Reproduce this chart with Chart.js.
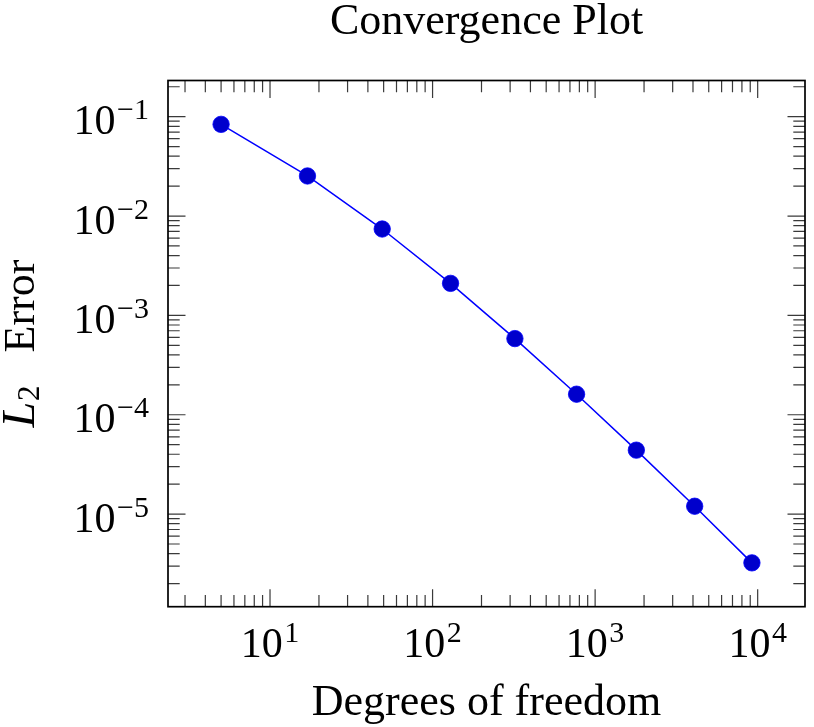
<!DOCTYPE html>
<html><head><meta charset="utf-8">
<script src="https://cdn.jsdelivr.net/npm/chart.js@4"></script>
<style>html,body{margin:0;padding:0;background:#fff}#wrap{width:814px;height:727px;position:relative}</style>
</head><body><div id="wrap"><canvas id="c"></canvas></div>
<script>
const titleText = 'Convergence Plot';
const xAxisLabel = 'Degrees of freedom';
const yAxisLabelVar = 'L';
const yAxisLabelSub = '2';
const yAxisLabelRest = 'Error';
const dofs = [5, 17, 49, 129, 321, 769, 1793, 4097, 9217];
const l2Errors = [0.0837, 0.0253, 0.0074, 0.0021, 0.000584, 0.000161, 0.000044, 0.0000120, 0.00000323];
const xTickExponents = [1, 2, 3, 4];
const yTickExponents = [-1, -2, -3, -4, -5];

const FONT = '"Liberation Serif", "Times New Roman", serif';
const LABEL = 44, BIG = 42, SMALL = 30;

function logLimits(arr) {
  const lo = Math.log10(Math.min(...arr)), hi = Math.log10(Math.max(...arr));
  const pad = 0.1 * (hi - lo);
  return [Math.pow(10, lo - pad), Math.pow(10, hi + pad)];
}
const [xMin, xMax] = logLimits(dofs);
const [yMin, yMax] = logLimits(l2Errors);

function drawPow(ctx, exp, x, y, align) {
  const base = '10';
  const e = exp < 0 ? '\u2212' + (-exp) : String(exp);
  ctx.font = BIG + 'px ' + FONT;
  const w1 = ctx.measureText(base).width;
  ctx.font = SMALL + 'px ' + FONT;
  const w2 = ctx.measureText(e).width;
  const gap = 1.5;
  const total = w1 + gap + w2;
  const x0 = align === 'center' ? x - total / 2 : x - total;
  ctx.textAlign = 'left';
  ctx.textBaseline = 'alphabetic';
  ctx.fillStyle = '#000';
  ctx.font = BIG + 'px ' + FONT;
  ctx.fillText(base, x0, y);
  ctx.font = SMALL + 'px ' + FONT;
  ctx.fillText(e, x0 + w1 + gap, y - 15);
}

const axisPlugin = {
  id: 'pgfAxis',
  beforeDatasetsDraw(chart) {
    const ctx = chart.ctx, a = chart.chartArea;
    const xs = chart.scales.x, ys = chart.scales.y;
    ctx.save();
    ctx.strokeStyle = '#3a3a3a';
    ctx.lineWidth = 1.2;
    const MAJ = 17.5, MIN = 11.7;
    for (let k = Math.floor(Math.log10(xs.min)); k <= Math.ceil(Math.log10(xs.max)); k++) {
      for (let m = 1; m <= 9; m++) {
        const v = m * Math.pow(10, k);
        if (v < xs.min || v > xs.max) continue;
        const px = xs.getPixelForValue(v);
        const len = m === 1 ? MAJ : MIN;
        ctx.beginPath();
        ctx.moveTo(px, a.bottom); ctx.lineTo(px, a.bottom - len);
        ctx.moveTo(px, a.top); ctx.lineTo(px, a.top + len);
        ctx.stroke();
      }
    }
    for (let k = Math.floor(Math.log10(ys.min)); k <= Math.ceil(Math.log10(ys.max)); k++) {
      for (let m = 1; m <= 9; m++) {
        const v = m * Math.pow(10, k);
        if (v < ys.min || v > ys.max) continue;
        const py = ys.getPixelForValue(v);
        const len = m === 1 ? MAJ : MIN;
        ctx.beginPath();
        ctx.moveTo(a.left, py); ctx.lineTo(a.left + len, py);
        ctx.moveTo(a.right, py); ctx.lineTo(a.right - len, py);
        ctx.stroke();
      }
    }
    ctx.restore();
  },
  afterDraw(chart) {
    const ctx = chart.ctx, a = chart.chartArea;
    const xs = chart.scales.x, ys = chart.scales.y;
    ctx.save();
    ctx.strokeStyle = '#000';
    ctx.lineWidth = 1.7;
    ctx.strokeRect(a.left, a.top, a.right - a.left, a.bottom - a.top);

    xTickExponents.forEach(e => drawPow(ctx, e, xs.getPixelForValue(Math.pow(10, e)), a.bottom + 50.5, 'center'));
    yTickExponents.forEach(e => drawPow(ctx, e, a.left - 19, ys.getPixelForValue(Math.pow(10, e)) + 17.7, 'right'));

    const cx = (a.left + a.right) / 2;
    ctx.fillStyle = '#000';
    ctx.textAlign = 'center';
    ctx.textBaseline = 'alphabetic';
    ctx.font = LABEL + 'px ' + FONT;
    ctx.fillText(titleText, cx, 34);
    ctx.fillText(xAxisLabel, cx, 715);

    // y axis label, rotated
    const cy = (a.top + a.bottom) / 2;
    ctx.translate(34, cy);
    ctx.rotate(-Math.PI / 2);
    const fItal = 'italic ' + (LABEL + 2) + 'px ' + FONT;
    const fBig = LABEL + 'px ' + FONT;
    const fSmall = (SMALL + 1) + 'px ' + FONT;
    const half = 84;
    ctx.textAlign = 'left';
    ctx.font = fItal; const wL = ctx.measureText(yAxisLabelVar).width;
    ctx.fillText(yAxisLabelVar, -half, 0);
    ctx.font = fSmall;
    ctx.fillText(yAxisLabelSub, -half + wL + 1, 5);
    ctx.font = fBig;
    ctx.textAlign = 'right';
    ctx.fillText(yAxisLabelRest, half, 0);
    ctx.restore();
  }
};

const points = dofs.map((d, i) => ({ x: d, y: l2Errors[i] }));

new Chart(document.getElementById('c'), {
  type: 'line',
  data: {
    datasets: [{
      label: 'L2 Error',
      data: points,
      borderColor: '#0000ff',
      borderWidth: 1.5,
      backgroundColor: '#0000cc',
      pointBackgroundColor: '#0000cc',
      pointBorderColor: '#0000ff',
      pointBorderWidth: 0.8,
      pointRadius: 8.2,
      tension: 0,
      fill: false
    }]
  },
  options: {
    animation: false,
    responsive: true,
    maintainAspectRatio: false,
    layout: { padding: { left: 168, right: 6, top: 80.5, bottom: 120.3 } },
    plugins: { legend: { display: false }, tooltip: { enabled: false }, title: { display: false } },
    scales: {
      x: { type: 'logarithmic', min: xMin, max: xMax, display: false },
      y: { type: 'logarithmic', min: yMin, max: yMax, display: false }
    }
  },
  plugins: [axisPlugin]
});
</script>
</body></html>
